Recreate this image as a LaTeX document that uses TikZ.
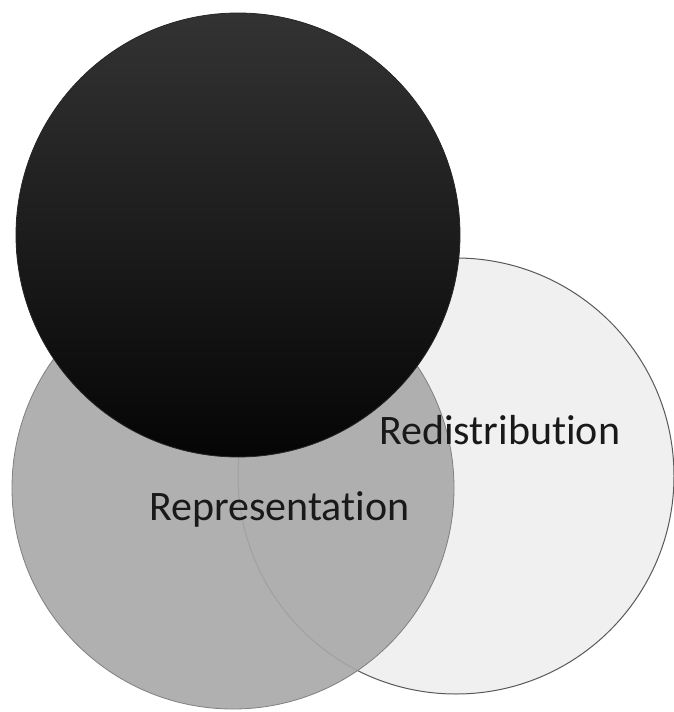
\documentclass[tikz,border=0pt]{standalone}
\usepackage{fontspec}
\setmainfont{Carlito}[Ligatures=NoCommon]
\usetikzlibrary{positioning}
\tikzset{
  venn disk/.style={circle,inner sep=0pt,outer sep=0pt},
  venn label/.style={anchor=base west,inner sep=0pt,text=black!90,font=\fontsize{42}{50}\selectfont},
}
\begin{document}
\begin{tikzpicture}[x=1pt,y=-1pt]
  \useasboundingbox[fill=white] (0,0) rectangle (673,712);
  \node[venn disk,minimum size=436pt,fill=black!6,draw=black!65,line width=1pt] (redis) at (456,476) {};
  \node[venn disk,minimum size=442pt,fill=black!34,fill opacity=0.9,draw=black!50,line width=0.8pt] (repr) at (233,488) {};
  \node[venn disk,minimum size=444pt,top color=black!80,middle color=black!96,bottom color=black!98,draw=black!85,line width=0.8pt] (recog) at (238,235) {};
  \node[venn label] (redislabel) at (379,444) {Redistribution};
  \node[venn label] (reprlabel) at (149,520) {Representation};
\end{tikzpicture}
\end{document}
